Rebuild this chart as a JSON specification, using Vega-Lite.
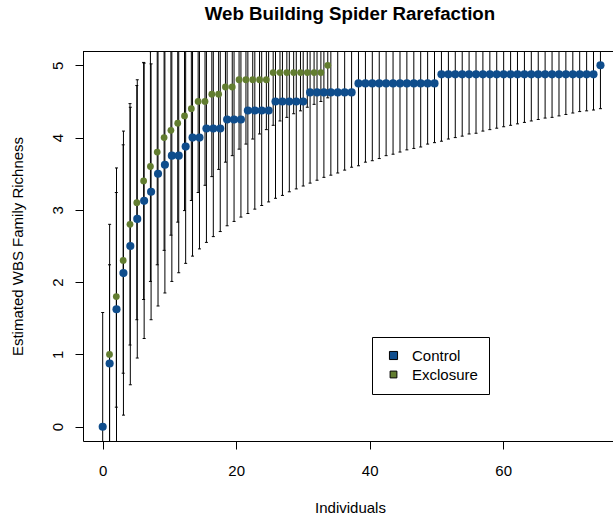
{
  "$schema": "https://vega.github.io/schema/vega-lite/v6.json",
  "width": 530,
  "height": 390,
  "autosize": {"type": "none"},
  "padding": {"left": 83, "top": 51, "right": 0, "bottom": 75},
  "background": "white",
  "config": {
    "view": {"stroke": null},
    "font": "Liberation Sans",
    "axis": {
      "grid": false,
      "domainColor": "black",
      "domainWidth": 1,
      "tickColor": "black",
      "tickWidth": 1,
      "tickSize": 8,
      "labelColor": "black",
      "titleColor": "black",
      "labelFont": "Liberation Sans",
      "titleFont": "Liberation Sans",
      "labelFontSize": 15,
      "titleFontSize": 15,
      "titleFontWeight": "normal"
    }
  },
  "title": {
    "text": "Web Building Spider Rarefaction",
    "font": "Liberation Sans",
    "fontSize": 18.7,
    "fontWeight": "bold",
    "color": "black",
    "anchor": "middle",
    "frame": "group",
    "baseline": "alphabetic",
    "offset": 12,
    "dx": 2
  },
  "data": {
    "values": [
      {"group": "Exclosure", "ind": 0, "rich": 0, "lo": 0, "hi": 0},
      {"group": "Exclosure", "ind": 1.02, "rich": 1.0, "lo": -0.24, "hi": 2.24},
      {"group": "Exclosure", "ind": 2.04, "rich": 1.8, "lo": 0.27, "hi": 3.24},
      {"group": "Exclosure", "ind": 3.07, "rich": 2.3, "lo": 0.74, "hi": 3.9},
      {"group": "Exclosure", "ind": 4.09, "rich": 2.8, "lo": 1.13, "hi": 4.47},
      {"group": "Exclosure", "ind": 5.11, "rich": 3.1, "lo": 1.48, "hi": 4.72},
      {"group": "Exclosure", "ind": 6.13, "rich": 3.4, "lo": 1.76, "hi": 5.04},
      {"group": "Exclosure", "ind": 7.15, "rich": 3.6, "lo": 2.01, "hi": 5.19},
      {"group": "Exclosure", "ind": 8.17, "rich": 3.8, "lo": 2.24, "hi": 5.36},
      {"group": "Exclosure", "ind": 9.2, "rich": 4.0, "lo": 2.44, "hi": 5.56},
      {"group": "Exclosure", "ind": 10.22, "rich": 4.1, "lo": 2.65, "hi": 5.55},
      {"group": "Exclosure", "ind": 11.24, "rich": 4.2, "lo": 2.83, "hi": 5.57},
      {"group": "Exclosure", "ind": 12.26, "rich": 4.3, "lo": 2.99, "hi": 5.61},
      {"group": "Exclosure", "ind": 13.28, "rich": 4.4, "lo": 3.13, "hi": 5.67},
      {"group": "Exclosure", "ind": 14.3, "rich": 4.5, "lo": 3.24, "hi": 5.76},
      {"group": "Exclosure", "ind": 15.33, "rich": 4.5, "lo": 3.34, "hi": 5.66},
      {"group": "Exclosure", "ind": 16.35, "rich": 4.6, "lo": 3.46, "hi": 5.74},
      {"group": "Exclosure", "ind": 17.37, "rich": 4.6, "lo": 3.56, "hi": 5.64},
      {"group": "Exclosure", "ind": 18.39, "rich": 4.7, "lo": 3.66, "hi": 5.74},
      {"group": "Exclosure", "ind": 19.41, "rich": 4.7, "lo": 3.75, "hi": 5.65},
      {"group": "Exclosure", "ind": 20.43, "rich": 4.8, "lo": 3.84, "hi": 5.76},
      {"group": "Exclosure", "ind": 21.46, "rich": 4.8, "lo": 3.91, "hi": 5.69},
      {"group": "Exclosure", "ind": 22.48, "rich": 4.8, "lo": 3.98, "hi": 5.62},
      {"group": "Exclosure", "ind": 23.5, "rich": 4.8, "lo": 4.05, "hi": 5.55},
      {"group": "Exclosure", "ind": 24.52, "rich": 4.8, "lo": 4.11, "hi": 5.49},
      {"group": "Exclosure", "ind": 25.54, "rich": 4.9, "lo": 4.17, "hi": 5.63},
      {"group": "Exclosure", "ind": 26.56, "rich": 4.9, "lo": 4.23, "hi": 5.57},
      {"group": "Exclosure", "ind": 27.59, "rich": 4.9, "lo": 4.28, "hi": 5.52},
      {"group": "Exclosure", "ind": 28.61, "rich": 4.9, "lo": 4.33, "hi": 5.47},
      {"group": "Exclosure", "ind": 29.63, "rich": 4.9, "lo": 4.37, "hi": 5.43},
      {"group": "Exclosure", "ind": 30.65, "rich": 4.9, "lo": 4.42, "hi": 5.38},
      {"group": "Exclosure", "ind": 31.67, "rich": 4.9, "lo": 4.46, "hi": 5.34},
      {"group": "Exclosure", "ind": 32.69, "rich": 4.9, "lo": 4.5, "hi": 5.3},
      {"group": "Exclosure", "ind": 33.72, "rich": 5.0, "lo": 4.55, "hi": 5.45},
      {"group": "Control", "ind": 0, "rich": 0, "lo": -1.58, "hi": 1.58},
      {"group": "Control", "ind": 1.04, "rich": 0.875, "lo": -1.05, "hi": 2.8},
      {"group": "Control", "ind": 2.07, "rich": 1.625, "lo": -0.33, "hi": 3.58},
      {"group": "Control", "ind": 3.11, "rich": 2.125, "lo": 0.16, "hi": 4.09},
      {"group": "Control", "ind": 4.14, "rich": 2.5, "lo": 0.58, "hi": 4.42},
      {"group": "Control", "ind": 5.18, "rich": 2.875, "lo": 0.95, "hi": 4.8},
      {"group": "Control", "ind": 6.21, "rich": 3.125, "lo": 1.22, "hi": 5.03},
      {"group": "Control", "ind": 7.25, "rich": 3.25, "lo": 1.48, "hi": 5.02},
      {"group": "Control", "ind": 8.29, "rich": 3.5, "lo": 1.67, "hi": 5.33},
      {"group": "Control", "ind": 9.32, "rich": 3.625, "lo": 1.85, "hi": 5.4},
      {"group": "Control", "ind": 10.36, "rich": 3.75, "lo": 2.01, "hi": 5.49},
      {"group": "Control", "ind": 11.39, "rich": 3.75, "lo": 2.13, "hi": 5.37},
      {"group": "Control", "ind": 12.43, "rich": 3.875, "lo": 2.26, "hi": 5.49},
      {"group": "Control", "ind": 13.46, "rich": 4.0, "lo": 2.36, "hi": 5.64},
      {"group": "Control", "ind": 14.5, "rich": 4.0, "lo": 2.46, "hi": 5.54},
      {"group": "Control", "ind": 15.54, "rich": 4.125, "lo": 2.55, "hi": 5.7},
      {"group": "Control", "ind": 16.57, "rich": 4.125, "lo": 2.63, "hi": 5.62},
      {"group": "Control", "ind": 17.61, "rich": 4.125, "lo": 2.7, "hi": 5.55},
      {"group": "Control", "ind": 18.64, "rich": 4.25, "lo": 2.78, "hi": 5.72},
      {"group": "Control", "ind": 19.68, "rich": 4.25, "lo": 2.84, "hi": 5.66},
      {"group": "Control", "ind": 20.71, "rich": 4.25, "lo": 2.9, "hi": 5.6},
      {"group": "Control", "ind": 21.75, "rich": 4.375, "lo": 2.95, "hi": 5.8},
      {"group": "Control", "ind": 22.79, "rich": 4.375, "lo": 3.01, "hi": 5.74},
      {"group": "Control", "ind": 23.82, "rich": 4.375, "lo": 3.06, "hi": 5.69},
      {"group": "Control", "ind": 24.86, "rich": 4.375, "lo": 3.11, "hi": 5.64},
      {"group": "Control", "ind": 25.89, "rich": 4.5, "lo": 3.16, "hi": 5.84},
      {"group": "Control", "ind": 26.93, "rich": 4.5, "lo": 3.2, "hi": 5.8},
      {"group": "Control", "ind": 27.96, "rich": 4.5, "lo": 3.25, "hi": 5.75},
      {"group": "Control", "ind": 29.0, "rich": 4.5, "lo": 3.29, "hi": 5.71},
      {"group": "Control", "ind": 30.04, "rich": 4.5, "lo": 3.33, "hi": 5.67},
      {"group": "Control", "ind": 31.07, "rich": 4.625, "lo": 3.37, "hi": 5.88},
      {"group": "Control", "ind": 32.11, "rich": 4.625, "lo": 3.41, "hi": 5.84},
      {"group": "Control", "ind": 33.14, "rich": 4.625, "lo": 3.45, "hi": 5.8},
      {"group": "Control", "ind": 34.18, "rich": 4.625, "lo": 3.48, "hi": 5.77},
      {"group": "Control", "ind": 35.21, "rich": 4.625, "lo": 3.51, "hi": 5.74},
      {"group": "Control", "ind": 36.25, "rich": 4.625, "lo": 3.55, "hi": 5.7},
      {"group": "Control", "ind": 37.29, "rich": 4.625, "lo": 3.59, "hi": 5.66},
      {"group": "Control", "ind": 38.32, "rich": 4.75, "lo": 3.61, "hi": 5.89},
      {"group": "Control", "ind": 39.36, "rich": 4.75, "lo": 3.66, "hi": 5.84},
      {"group": "Control", "ind": 40.39, "rich": 4.75, "lo": 3.68, "hi": 5.82},
      {"group": "Control", "ind": 41.43, "rich": 4.75, "lo": 3.71, "hi": 5.79},
      {"group": "Control", "ind": 42.46, "rich": 4.75, "lo": 3.75, "hi": 5.75},
      {"group": "Control", "ind": 43.5, "rich": 4.75, "lo": 3.77, "hi": 5.73},
      {"group": "Control", "ind": 44.54, "rich": 4.75, "lo": 3.8, "hi": 5.7},
      {"group": "Control", "ind": 45.57, "rich": 4.75, "lo": 3.83, "hi": 5.67},
      {"group": "Control", "ind": 46.61, "rich": 4.75, "lo": 3.85, "hi": 5.65},
      {"group": "Control", "ind": 47.64, "rich": 4.75, "lo": 3.87, "hi": 5.63},
      {"group": "Control", "ind": 48.68, "rich": 4.75, "lo": 3.91, "hi": 5.59},
      {"group": "Control", "ind": 49.71, "rich": 4.75, "lo": 3.93, "hi": 5.57},
      {"group": "Control", "ind": 50.75, "rich": 4.875, "lo": 3.95, "hi": 5.8},
      {"group": "Control", "ind": 51.79, "rich": 4.875, "lo": 3.98, "hi": 5.77},
      {"group": "Control", "ind": 52.82, "rich": 4.875, "lo": 4.0, "hi": 5.75},
      {"group": "Control", "ind": 53.86, "rich": 4.875, "lo": 4.02, "hi": 5.73},
      {"group": "Control", "ind": 54.89, "rich": 4.875, "lo": 4.05, "hi": 5.7},
      {"group": "Control", "ind": 55.93, "rich": 4.875, "lo": 4.06, "hi": 5.69},
      {"group": "Control", "ind": 56.96, "rich": 4.875, "lo": 4.09, "hi": 5.66},
      {"group": "Control", "ind": 58.0, "rich": 4.875, "lo": 4.11, "hi": 5.64},
      {"group": "Control", "ind": 59.03, "rich": 4.875, "lo": 4.13, "hi": 5.62},
      {"group": "Control", "ind": 60.07, "rich": 4.875, "lo": 4.15, "hi": 5.6},
      {"group": "Control", "ind": 61.11, "rich": 4.875, "lo": 4.17, "hi": 5.58},
      {"group": "Control", "ind": 62.14, "rich": 4.875, "lo": 4.19, "hi": 5.56},
      {"group": "Control", "ind": 63.18, "rich": 4.875, "lo": 4.21, "hi": 5.54},
      {"group": "Control", "ind": 64.21, "rich": 4.875, "lo": 4.23, "hi": 5.52},
      {"group": "Control", "ind": 65.25, "rich": 4.875, "lo": 4.25, "hi": 5.5},
      {"group": "Control", "ind": 66.28, "rich": 4.875, "lo": 4.27, "hi": 5.48},
      {"group": "Control", "ind": 67.32, "rich": 4.875, "lo": 4.28, "hi": 5.47},
      {"group": "Control", "ind": 68.36, "rich": 4.875, "lo": 4.3, "hi": 5.45},
      {"group": "Control", "ind": 69.39, "rich": 4.875, "lo": 4.32, "hi": 5.43},
      {"group": "Control", "ind": 70.43, "rich": 4.875, "lo": 4.34, "hi": 5.41},
      {"group": "Control", "ind": 71.46, "rich": 4.875, "lo": 4.36, "hi": 5.39},
      {"group": "Control", "ind": 72.5, "rich": 4.875, "lo": 4.37, "hi": 5.38},
      {"group": "Control", "ind": 73.53, "rich": 4.875, "lo": 4.38, "hi": 5.37},
      {"group": "Control", "ind": 74.57, "rich": 5.0, "lo": 4.4, "hi": 5.6}
    ]
  },
  "layer": [
    {
      "mark": {"type": "rule", "color": "black", "strokeWidth": 1, "clip": true},
      "encoding": {
        "x": {
          "field": "ind",
          "type": "quantitative",
          "title": "Individuals",
          "scale": {"domain": [-2.95, 76.45], "nice": false, "zero": false},
          "axis": {
            "values": [0, 20, 40, 60],
            "format": "d",
            "labelPadding": 14,
            "labelFlush": false,
            "titleX": 267,
            "titleY": 71,
            "titleAlign": "center",
            "titleBaseline": "alphabetic"
          }
        },
        "y": {
          "field": "lo",
          "type": "quantitative",
          "title": "Estimated WBS Family Richness",
          "scale": {"domain": [-0.198, 5.198], "nice": false, "zero": false},
          "axis": {
            "values": [0, 1, 2, 3, 4, 5],
            "format": "d",
            "labelAngle": -90,
            "labelAlign": "center",
            "labelBaseline": "alphabetic",
            "labelPadding": 13,
            "labelFlush": false,
            "titleAngle": 270,
            "titleX": -60.6,
            "titleY": 195,
            "titleAlign": "center",
            "titleBaseline": "alphabetic"
          }
        },
        "y2": {"field": "hi"}
      }
    },
    {
      "mark": {"type": "tick", "orient": "horizontal", "size": 3, "thickness": 1, "color": "black", "opacity": 1, "clip": true},
      "encoding": {
        "x": {"field": "ind", "type": "quantitative", "title": "Individuals"},
        "y": {"field": "lo", "type": "quantitative", "title": "Estimated WBS Family Richness"}
      }
    },
    {
      "mark": {"type": "tick", "orient": "horizontal", "size": 3, "thickness": 1, "color": "black", "opacity": 1, "clip": true},
      "encoding": {
        "x": {"field": "ind", "type": "quantitative", "title": "Individuals"},
        "y": {"field": "hi", "type": "quantitative", "title": "Estimated WBS Family Richness"}
      }
    },
    {
      "mark": {"type": "point", "filled": true, "opacity": 1, "strokeWidth": 0},
      "encoding": {
        "x": {"field": "ind", "type": "quantitative", "title": "Individuals"},
        "y": {"field": "rich", "type": "quantitative", "title": "Estimated WBS Family Richness"},
        "color": {
          "field": "group",
          "type": "nominal",
          "scale": {"domain": ["Control", "Exclosure"], "range": ["#0F4D8C", "#627D30"]},
          "legend": {
            "title": null,
            "orient": "none",
            "legendX": 289,
            "legendY": 286,
            "symbolType": "square",
            "symbolSize": 64,
            "symbolStrokeColor": "black",
            "symbolStrokeWidth": 1,
            "symbolOpacity": 1,
            "symbolOffset": 3,
            "strokeColor": "black",
            "fillColor": "white",
            "padding": 11,
            "rowPadding": 3,
            "labelFont": "Liberation Sans",
            "labelFontSize": 15,
            "labelColor": "black",
            "labelOffset": 11,
            "labelLimit": 200,
            "encode": {
              "symbols": {"update": {"stroke": {"value": "black"}, "strokeWidth": {"value": 1}}}
            }
          }
        },
        "size": {
          "field": "group",
          "type": "nominal",
          "scale": {"domain": ["Control", "Exclosure"], "range": [66, 46]},
          "legend": null
        }
      }
    },
    {
      "mark": {"type": "rule", "color": "black", "strokeWidth": 1},
      "encoding": {
        "y": {"datum": 5.191, "type": "quantitative", "title": "Estimated WBS Family Richness"}
      }
    }
  ]
}
